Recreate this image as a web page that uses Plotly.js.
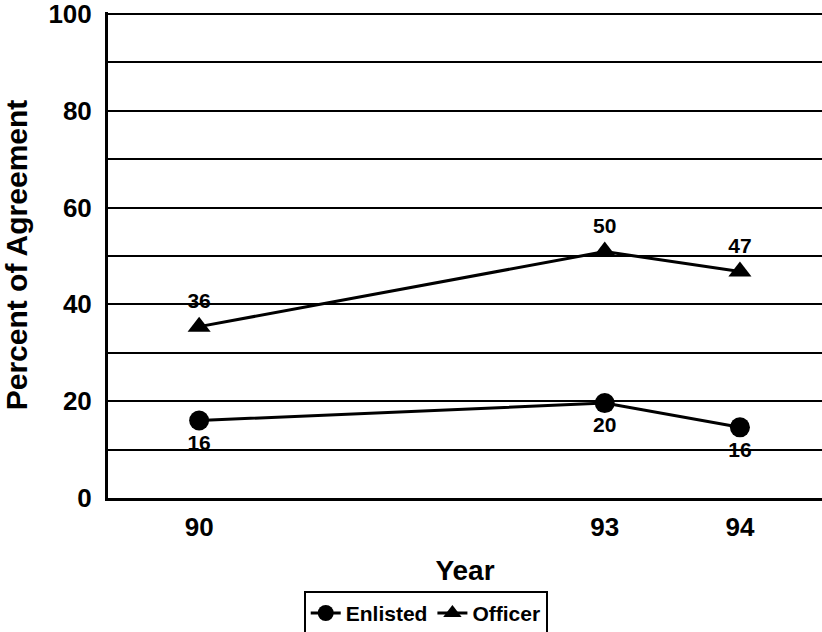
<!DOCTYPE html>
<html>
<head>
<meta charset="utf-8">
<script src="https://cdn.plot.ly/plotly-3.0.1.min.js"></script>
<style>html,body{margin:0;padding:0;background:#fff;}</style>
</head>
<body>
<div id="chart" style="width:822px;height:632px;"></div>
<script>
// Data
const years = [90, 93, 94];
const enlistedValues = [16, 19.6, 14.6];
const enlistedLabels = ["16", "20", "16"];
const officerValues = [35.4, 50.9, 46.8];
const officerLabels = ["36", "50", "47"];
const yTickVals = [0, 10, 20, 30, 40, 50, 60, 70, 80, 90, 100];
const yTickText = ["0", "", "20", "", "40", "", "60", "", "80", "", "100"];
const xTickVals = [90, 93, 94];
const xTickText = ["90", "93", "94"];

const FONT = "Liberation Sans, Arial, Helvetica, sans-serif";

const traces = [
  {
    x: years, y: enlistedValues, name: "Enlisted",
    type: "scatter", mode: "lines+markers+text",
    text: enlistedLabels, textposition: "bottom center",
    textfont: {family: FONT, size: 21, color: "#000", weight: "bold"},
    line: {color: "#000", width: 3},
    marker: {symbol: "circle", size: 20, color: "#000"},
    cliponaxis: false
  },
  {
    x: years, y: officerValues, name: "Officer",
    type: "scatter", mode: "lines+markers+text",
    text: officerLabels, textposition: "top center",
    textfont: {family: FONT, size: 21, color: "#000", weight: "bold"},
    line: {color: "#000", width: 3},
    marker: {symbol: "triangle-up", size: 20, color: "#000"},
    cliponaxis: false
  }
];

const layout = {
  width: 822, height: 632,
  margin: {l: 108, r: 0, t: 12, b: 134, pad: 0, autoexpand: false},
  paper_bgcolor: "#fff", plot_bgcolor: "#fff",
  font: {family: FONT, color: "#000", weight: "bold"},
  showlegend: true,
  legend: {
    orientation: "h", x: 0.445, xanchor: "center", xref: "paper",
    y: -0.191, yanchor: "top", yref: "paper",
    bordercolor: "#000", borderwidth: 2, bgcolor: "#fff",
    font: {family: FONT, size: 21, color: "#000", weight: "bold"},
    itemwidth: 30, tracegroupgap: 0
  },
  xaxis: {
    range: [89.326, 94.607],
    tickvals: xTickVals, ticktext: xTickText,
    tickfont: {family: FONT, size: 26, color: "#000", weight: "bold"},
    showgrid: false, zeroline: false,
    showline: true, linecolor: "#000", linewidth: 3,
    ticks: "", ticklabelstandoff: 4, ticklabeloverflow: "allow",
    title: {text: "Year", font: {family: FONT, size: 28, color: "#000", weight: "bold"}, standoff: 20},
    automargin: false, fixedrange: true
  },
  yaxis: {
    range: [0, 100.4],
    tickvals: yTickVals, ticktext: yTickText,
    tickfont: {family: FONT, size: 26, color: "#000", weight: "bold"},
    showgrid: true, gridcolor: "#000", gridwidth: 2,
    zeroline: false,
    showline: true, linecolor: "#000", linewidth: 3,
    ticks: "", ticklabelstandoff: 8, ticklabeloverflow: "allow",
    title: {text: "Percent of Agreement", font: {family: FONT, size: 30, color: "#000", weight: "bold"}, standoff: 12},
    automargin: true, fixedrange: true
  }
};

Plotly.newPlot("chart", traces, layout, {displayModeBar: false, staticPlot: true});
</script>
</body>
</html>
